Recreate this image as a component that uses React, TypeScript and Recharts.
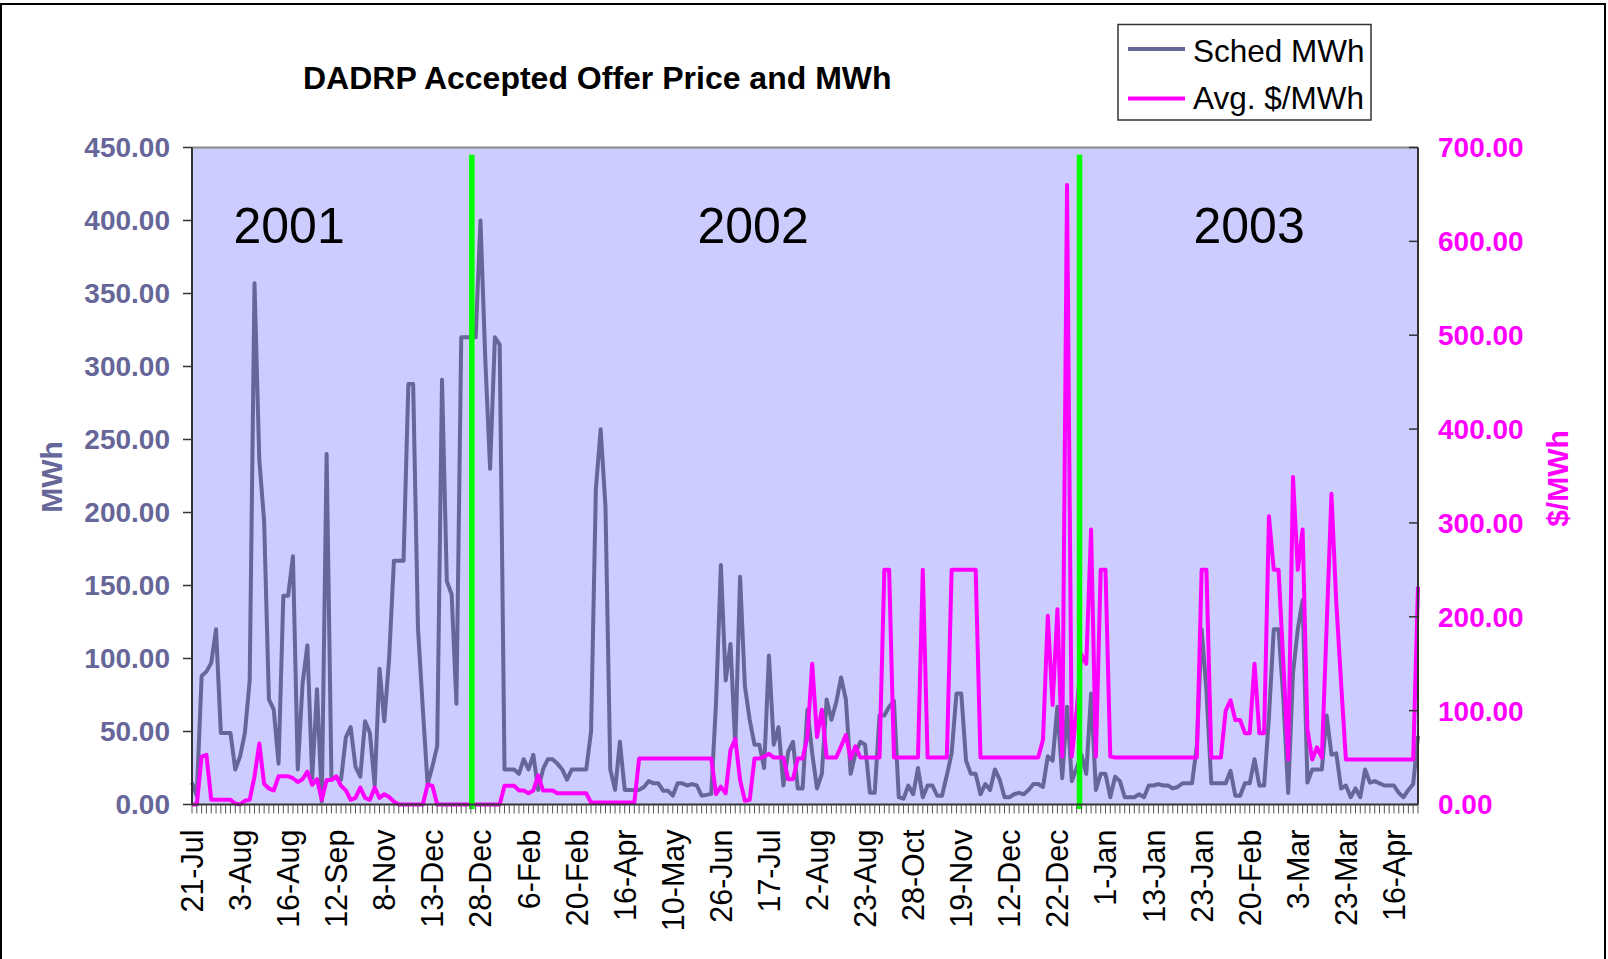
import { CartesianGrid, Line, LineChart, ReferenceLine, XAxis, YAxis } from "recharts";

// x-axis labels, one every 10 categories
const tickLabels = [
  "21-Jul", "3-Aug", "16-Aug", "12-Sep", "8-Nov", "13-Dec", "28-Dec", "6-Feb", "20-Feb", "16-Apr",
  "10-May", "26-Jun", "17-Jul", "2-Aug", "23-Aug", "28-Oct", "19-Nov", "12-Dec", "22-Dec", "1-Jan",
  "13-Jan", "23-Jan", "20-Feb", "3-Mar", "23-Mar", "16-Apr",
];

// Sched MWh (left axis)
const schedMWh = [
  15, 6, 88, 91, 97, 120, 49, 49, 49, 24,
  33, 49, 85, 357, 236, 194, 72, 65, 28, 143,
  143, 170, 24, 83, 109, 18, 79, 2, 240, 18,
  18, 17, 46, 53, 26, 19, 57, 49, 13, 93,
  57, 100, 167, 167, 167, 288, 288, 121, 66, 14,
  26, 40, 291, 153, 144, 69, 320, 320, 320, 320,
  400, 305, 230, 320, 315, 24, 24, 24, 21, 31,
  24, 34, 10, 24, 31, 31, 28, 24, 17, 24,
  24, 24, 24, 50, 216, 257, 204, 24, 10, 43,
  10, 10, 10, 10, 12, 16, 14.5, 14.5, 9.5, 9.5,
  6, 14.5, 14.5, 13, 14, 13, 6, 6.6, 7.3, 70,
  164, 85, 110, 40, 156, 81, 58, 41, 41, 25,
  102, 41, 53, 13, 36, 43, 11, 11, 65, 35,
  11, 21, 72, 58, 70, 87, 72, 21, 35, 43,
  41, 8, 8, 61, 61, 67, 71, 5, 4, 13,
  7, 25, 5, 13, 13, 6, 6, 20, 35, 76,
  76, 30, 21, 21, 7, 14, 10, 24, 17, 5,
  5, 7, 8, 7, 10, 14, 14, 12, 33, 30,
  67, 18, 67, 16, 25, 34, 21, 76, 10, 21,
  21, 5, 19, 16, 5, 5, 5, 7, 5, 13,
  13, 14, 13, 13, 11, 12, 14.5, 14.5, 14.5, 40,
  120, 78, 14.5, 14.5, 14.5, 14.5, 23, 6, 6, 14.5,
  14.5, 31, 13, 13, 60, 120, 120, 72, 8, 90,
  120, 140, 15, 24, 24, 24, 61, 34, 35, 11,
  13, 5, 11, 5, 24, 15, 16, 14.5, 13, 13,
  13, 8, 5, 10, 14, 47,
];

// Avg. $/MWh (right axis)
const avgPrice = [
  0, 0, 51, 53, 5, 5, 5, 5, 5, 1,
  0, 4, 5, 30, 65, 22, 17, 15, 30, 30,
  30, 28, 24, 27, 35, 21, 27, 5, 26, 26,
  30, 20, 15, 5, 7, 18, 7, 5, 18, 7,
  11, 8, 3, 0, 0, 0, 0, 0, 0, 21,
  20, 0, 0, 0, 0, 0, 0, 0, 0, 0,
  0, 0, 0, 0, 0, 20, 20, 20, 15, 15,
  12, 15, 31, 15, 15, 15, 12, 12, 12, 12,
  12, 12, 12, 2, 2, 2, 2, 2, 2, 2,
  2, 2, 2, 49, 49, 49, 49, 49, 49, 49,
  49, 49, 49, 49, 49, 49, 49, 49, 49, 11,
  19, 12, 58, 70, 26, 4, 5, 49, 49, 51,
  54, 50, 50, 50, 27, 27, 49, 49, 72, 150,
  72, 101, 50, 50, 50, 62, 74, 49, 62, 50,
  50, 50, 50, 50, 250, 250, 50, 50, 50, 50,
  50, 50, 250, 50, 50, 50, 50, 50, 250, 250,
  250, 250, 250, 250, 50, 50, 50, 50, 50, 50,
  50, 50, 50, 50, 50, 50, 50, 69, 201, 106,
  208, 51, 660, 51, 100, 160, 150, 293, 51, 250,
  250, 51, 50, 50, 50, 50, 50, 50, 50, 50,
  50, 50, 50, 50, 50, 50, 50, 50, 50, 50,
  250, 250, 50, 50, 50, 100, 111, 90, 90, 76,
  76, 150, 76, 76, 307, 250, 250, 150, 48, 349,
  250, 293, 80, 48, 61, 50, 190, 331, 215, 130,
  48, 48, 48, 48, 48, 48, 48, 48, 48, 48,
  48, 48, 48, 48, 48, 232,
];

const leftTicks = [0, 50, 100, 150, 200, 250, 300, 350, 400, 450];
const rightTicks = [0, 100, 200, 300, 400, 500, 600, 700];
// year dividers, in category units
const yearBreaks = [58.2, 184.6];

const rows = schedMWh.map((s, i) => ({ idx: i, sched: s, price: avgPrice[i] }));
const allIdx = rows.map((r) => r.idx);

const FONT = "'Liberation Sans', Arial, sans-serif";

const XTick = (props: any) => {
  const { x, y, payload } = props;
  const i = payload.value;
  const label = i % 10 === 0 ? tickLabels[i / 10] : null;
  return (
    <g>
      <line x1={x} x2={x} y1={y} y2={y + 9} stroke="#555" strokeWidth={1} />
      {label && (
        <text
          x={x}
          y={y + 25}
          transform={`rotate(-90, ${x}, ${y + 25})`}
          textAnchor="end"
          dy="0.36em"
          fontSize={30.5}
          fontFamily={FONT}
          fill="#000"
        >
          {label}
        </text>
      )}
    </g>
  );
};

const RightTick = (props: any) => {
  const { x, y, payload } = props;
  const ax = x - 20;
  return (
    <g>
      <line x1={ax - 9} x2={ax} y1={y} y2={y} stroke="#333" strokeWidth={1.5} />
      <text x={x} y={y} dy="0.355em" fill="#FF00FF" fontSize={28} fontWeight="bold" fontFamily={FONT}>
        {Number(payload.value).toFixed(2)}
      </text>
    </g>
  );
};

export default function App() {
  return (
    <div style={{ position: "absolute", left: 0, top: 0, width: 1608, height: 959, overflow: "hidden", background: "#fff", fontFamily: FONT }}>
      <LineChart width={1608} height={959} data={rows} margin={{ top: 147.5, right: 0, bottom: 4.5, left: 0 }}>
        <CartesianGrid yAxisId="left" fill="#CCCCFF" stroke="none" horizontal={false} vertical={false} />
        <XAxis
          dataKey="idx"
          type="number"
          domain={[0, 255]}
          ticks={allIdx}
          interval={0}
          height={150}
          tickSize={0}
          tickMargin={0}
          tickLine={false}
          tick={XTick}
          axisLine={{ stroke: "#333", strokeWidth: 2 }}
        />
        <YAxis
          yAxisId="left"
          domain={[0, 450]}
          ticks={leftTicks}
          interval={0}
          width={192}
          tickSize={9}
          tickMargin={13}
          tickFormatter={(v: number) => v.toFixed(2)}
          tick={{ fill: "#666699", fontSize: 28, fontWeight: "bold", fontFamily: FONT }}
          tickLine={{ stroke: "#333", strokeWidth: 1.5 }}
          axisLine={{ stroke: "#333", strokeWidth: 2 }}
        />
        <YAxis
          yAxisId="right"
          orientation="right"
          domain={[0, 700]}
          ticks={rightTicks}
          interval={0}
          width={190}
          tickSize={0}
          tickMargin={20}
          tickLine={false}
          tick={RightTick}
          axisLine={{ stroke: "#333", strokeWidth: 2 }}
        />
        <ReferenceLine yAxisId="left" y={450} stroke="#888" strokeWidth={2} />
        <Line yAxisId="left" type="linear" dataKey="sched" stroke="#666699" strokeWidth={4} strokeLinejoin="round" dot={false} isAnimationActive={false} />
        <Line yAxisId="right" type="linear" dataKey="price" stroke="#FF00FF" strokeWidth={4} strokeLinejoin="round" dot={false} isAnimationActive={false} />
        {yearBreaks.map((b) => (
          <ReferenceLine
            key={b}
            yAxisId="left"
            segment={[{ x: b, y: -3 }, { x: b, y: 445 }]}
            ifOverflow="visible"
            stroke="#00FF00"
            strokeWidth={5.5}
          />
        ))}
      </LineChart>
      <svg width={1608} height={959} style={{ position: "absolute", left: 0, top: 0, pointerEvents: "none" }}>
        <rect x={1} y={4} width={1604} height={1000} fill="none" stroke="#000" strokeWidth={2} />
        <text x={303} y={88.5} fontSize={32} fontWeight="bold" fontFamily={FONT} fill="#000">
          DADRP Accepted Offer Price and MWh
        </text>
        <text x={233.5} y={243} fontSize={50} fontFamily={FONT} fill="#000">2001</text>
        <text x={697.5} y={243} fontSize={50} fontFamily={FONT} fill="#000">2002</text>
        <text x={1193.5} y={243} fontSize={50} fontFamily={FONT} fill="#000">2003</text>
        <text transform="translate(51,477) rotate(-90)" textAnchor="middle" dy="0.36em" fontSize={30} fontWeight="bold" fontFamily={FONT} fill="#666699">
          MWh
        </text>
        <text transform="translate(1557.5,478.5) rotate(-90)" textAnchor="middle" dy="0.36em" fontSize={30} fontWeight="bold" fontFamily={FONT} fill="#FF00FF">
          $/MWh
        </text>
        <rect x={1118} y={24.5} width={253} height={95.5} fill="#fff" stroke="#333" strokeWidth={1.5} />
        <line x1={1128} x2={1185} y1={49} y2={49} stroke="#666699" strokeWidth={4} />
        <text x={1193} y={61.5} fontSize={31.5} fontFamily={FONT} fill="#000">Sched MWh</text>
        <line x1={1128} x2={1185} y1={98.5} y2={98.5} stroke="#FF00FF" strokeWidth={4} />
        <text x={1193} y={108.7} fontSize={31.5} fontFamily={FONT} fill="#000">Avg. $/MWh</text>
      </svg>
    </div>
  );
}
